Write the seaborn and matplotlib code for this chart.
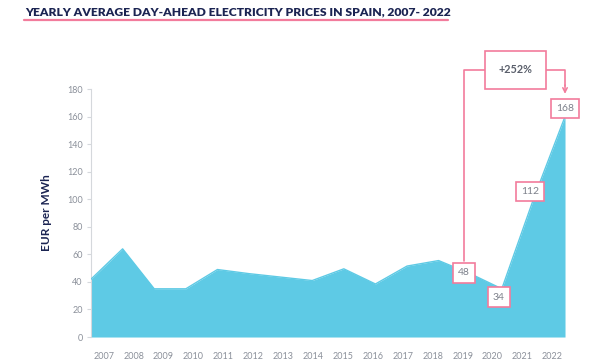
import numpy as np
import pandas as pd
import matplotlib
matplotlib.use('Agg')
import matplotlib.pyplot as plt
import seaborn as sns

# values
years = ['2007', '2008', '2009', '2010', '2011', '2012', '2013', '2014',
         '2015', '2016', '2017', '2018', '2019', '2020', '2021', '2022']
prices = [42, 64, 35, 35, 49, 46, 43.5, 41, 49.5, 38.5, 51.5, 55.5, 46, 35, 100, 160]

label_years = ['2019', '2020', '2021', '2022']
label_values = [48, 34, 112, 168]
label_texts = ['48', '34', '112', '168']
change_text = '+252%'

sns.set_theme(style='white')
plt.rcParams['font.family'] = ['Lato', 'DejaVu Sans']

navy = '#1b2452'
pink = '#f27c9c'
area = '#5ecae5'
grey = '#8b909a'

df = pd.DataFrame({'year': years, 'price': prices})
df['pos'] = np.arange(len(df))

fig = plt.figure(figsize=(6, 3.62), dpi=100)
ax = fig.add_axes([0.1517, 0.069, 0.79, 0.685])

ax.fill_between(df['pos'], 0, df['price'], color=area, lw=0, zorder=2)
sns.lineplot(data=df, x='pos', y='price', ax=ax, color=area, lw=1, zorder=3)

ax.set_xlim(0, 15)
ax.set_ylim(0, 180)
ax.set_yticks(np.arange(0, 181, 20))
ax.tick_params(axis='y', labelsize=6.5, labelcolor=grey, left=True, length=3,
               color='#d5d8dc', width=0.8, pad=3)
ax.set_xticks(np.linspace(0.4, 14.6, len(years)))
ax.set_xticklabels(years)
ax.tick_params(axis='x', labelsize=6.5, labelcolor=grey, bottom=False, pad=5)
for s in ['top', 'right', 'bottom']:
    ax.spines[s].set_visible(False)
ax.spines['left'].set_color('#d5d8dc')
ax.spines['left'].set_linewidth(0.8)
ax.set_xlabel('')
ax.set_ylabel('EUR per MWh', fontsize=8.5, fontweight='bold', color=navy, labelpad=11)

# value boxes (small nudges so they sit like in the original)
nudge = {'2019': (-0.2, -1.5), '2020': (-0.1, -5), '2021': (-0.1, -6.5), '2022': (0, -2)}
box = dict(boxstyle='square,pad=0.5', fc='white', ec=pink, lw=1.2)
for yr, v, t in zip(label_years, label_values, label_texts):
    i = years.index(yr)
    dx, dy = nudge[yr]
    ax.text(i + dx, v + dy, t, ha='center', va='center', fontsize=7.5,
            color='#7d818b', bbox=box, zorder=6, clip_on=False)

# bracket from 2019 to 2022
i19 = years.index('2019') - 0.2
i22 = years.index('2022')
top = 194
ax.plot([i19, i19, 12.6], [label_values[0] + 7, top, top], color=pink, lw=1.2,
        clip_on=False, zorder=5)
ax.plot([14.2, i22, i22], [top, top, 182], color=pink, lw=1.2,
        clip_on=False, zorder=5)
ax.annotate('', xy=(i22, 176.5), xytext=(i22, 183),
            arrowprops=dict(arrowstyle='->', color=pink, lw=1.1,
                            mutation_scale=8, shrinkA=0, shrinkB=0),
            annotation_clip=False)
ax.text(13.42, top, change_text, ha='center', va='center', fontsize=7.8,
        fontweight='bold', color='#5a5f6b', zorder=6,
        bbox=dict(boxstyle='square,pad=1.25', fc='white', ec=pink, lw=1.2))

# title with underline
fig.text(0.042, 0.957, 'YEARLY AVERAGE DAY-AHEAD ELECTRICITY PRICES IN SPAIN, 2007- 2022',
         fontsize=8.7, fontweight='heavy', color=navy, ha='left', va='baseline')
fig.add_artist(plt.Line2D([0.04, 0.747], [0.944, 0.944], color=pink, lw=1.6,
                          transform=fig.transFigure))

fig.savefig('out.png', dpi=100)
